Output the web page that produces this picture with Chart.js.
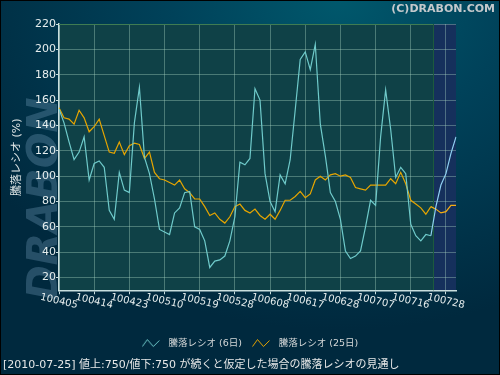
<!DOCTYPE html>
<html>
<head>
<meta charset="utf-8">
<script src="https://cdn.jsdelivr.net/npm/chart.js@4"></script>
<style>
  html, body { margin: 0; padding: 0; }
  #wrap {
    position: relative; width: 500px; height: 375px; overflow: hidden;
    background: radial-gradient(ellipse 420px 330px at 68% 0%, #00586c 0%, #00425a 40%, #00293e 100%);
  }
  #wrap::after {
    content: ''; position: absolute; inset: 0; border: 1px solid #000; pointer-events: none;
  }
  canvas { display: block; }
</style>
</head>
<body>
<div id="wrap"><canvas id="c" width="500" height="375"></canvas></div>
<script>
// ── データ（2010/04/05 〜 2010/07/30 の営業日） ─────────────────
const dates = [
  '100405','100406','100407','100408','100409','100412','100413','100414','100415','100416',
  '100419','100420','100421','100422','100423','100426','100427','100428','100430','100506',
  '100507','100510','100511','100512','100513','100514','100517','100518','100519','100520',
  '100521','100524','100525','100526','100527','100528','100531','100601','100602','100603',
  '100604','100607','100608','100609','100610','100611','100614','100615','100616','100617',
  '100618','100621','100622','100623','100624','100625','100628','100629','100630','100701',
  '100702','100705','100706','100707','100708','100709','100712','100713','100714','100715',
  '100716','100720','100721','100722','100723','100726','100727','100728','100729','100730',
];

// 騰落レシオ (6日)
const ratio6 = [
  153, 142, 127, 113, 119, 131,  97, 110, 112, 107,
   73,  66, 103,  89,  87, 142, 170, 115, 102,  82,
   58,  56,  54,  71,  75,  87,  88,  60,  58,  49,
   28,  33,  34,  37,  49,  68, 111, 109, 114, 169,
  160, 102,  80,  72, 101,  94, 113, 152, 192, 198,
  184, 204, 141, 116,  87,  80,  66,  41,  35,  37,
   41,  60,  81,  77, 131, 168, 137,  99, 107, 102,
   62,  53,  49,  54,  53,  76,  93, 102, 118, 131,
];

// 騰落レシオ (25日)
const ratio25 = [
  154, 146, 145, 141, 152, 146, 135, 139, 145, 132,
  119, 118, 127, 117, 124, 126, 125, 114, 119, 103,
   98,  97,  95,  93,  97,  90,  87,  82,  82,  76,
   69,  71,  66,  63,  68,  76,  78,  73,  71,  74,
   69,  66,  70,  66,  73,  81,  81,  84,  88,  83,
   86,  97, 100,  97, 101, 102, 100, 101,  99,  91,
   90,  89,  93,  93,  93,  93,  98,  94, 103,  94,
   81,  78,  75,  70,  76,  74,  71,  72,  77,  77,
];

const yTicks    = [20, 40, 60, 80, 100, 120, 140, 160, 180, 200, 220];
const PROJ_FROM = 75;          // 100726 以降は見通し
const LABEL_STEP = 7;

const FONT     = "'DejaVu Sans', 'Noto Sans CJK JP', sans-serif";
const GRID     = 'rgba(170,215,195,0.38)';
const AXIS     = '#c8dede';
const C6       = '#6fcaca';
const C6_PROJ  = '#8fd0f2';
const C25      = '#e6a500';
const C25_PROJ = '#f7ae12';

// 凡例用のギザギザアイコン
function zigzag(color) {
  const cv = document.createElement('canvas');
  cv.width = 22; cv.height = 10;
  const g = cv.getContext('2d');
  g.strokeStyle = color; g.lineWidth = 1;
  g.beginPath();
  g.moveTo(0.5, 8.5); g.lineTo(5.5, 1.5); g.lineTo(11.5, 8.5); g.lineTo(17.5, 2.5);
  g.stroke();
  return cv;
}

// ── 背景・透かし・x 軸ラベル ───────────────────────────────────
const decor = {
  id: 'decor',
  beforeDraw(chart) {
    const { ctx, chartArea: a, scales: { x } } = chart;
    ctx.save();
    ctx.translate(46, 300);
    ctx.rotate(-Math.PI / 2);
    ctx.font = "italic bold 42px 'DejaVu Sans'";
    ctx.fillStyle = 'rgba(125,170,200,0.3)';
    ctx.fillText('DRABON', 0, 0);
    ctx.restore();

    const split = x.getPixelForValue(PROJ_FROM - 0.5);
    ctx.fillStyle = '#0f4147';
    ctx.fillRect(a.left, a.top, split - a.left, a.bottom - a.top);
    ctx.fillStyle = '#15305c';
    ctx.fillRect(split, a.top, a.right - split, a.bottom - a.top);
  },
  beforeDatasetsDraw(chart) {
    const { ctx, chartArea: a, scales: { x } } = chart;
    const split = Math.round(x.getPixelForValue(PROJ_FROM - 0.5)) + 0.5;
    ctx.save();
    ctx.strokeStyle = '#3f7c52'; ctx.lineWidth = 1;
    ctx.beginPath(); ctx.moveTo(a.left, a.top + 0.5); ctx.lineTo(split, a.top + 0.5); ctx.stroke();
    ctx.strokeStyle = '#1d5a3e';
    ctx.beginPath(); ctx.moveTo(split, a.top); ctx.lineTo(split, a.bottom); ctx.stroke();
    ctx.restore();
  },
  afterDraw(chart) {
    const { ctx, chartArea: a, scales: { x } } = chart;
    ctx.save();
    ctx.font = '10px ' + FONT;
    ctx.fillStyle = '#e4ecec';
    ctx.textAlign = 'center';
    ctx.textBaseline = 'middle';
    x.ticks.forEach((t, i) => {
      ctx.save();
      ctx.translate(x.getPixelForTick(i), a.bottom + 11);
      ctx.rotate(13 * Math.PI / 180);
      ctx.fillText(dates[t.value], 0, 0);
      ctx.restore();
    });
    ctx.font = "bold 11px 'DejaVu Sans'";
    ctx.fillStyle = '#c4c9cc';
    ctx.textAlign = 'right';
    ctx.fillText('(C)DRABON.COM', 495, 9);
    ctx.restore();
  },
};

new Chart(document.getElementById('c'), {
  type: 'line',
  data: {
    labels: dates,
    datasets: [
      {
        label: '騰落レシオ (6日)',
        data: ratio6,
        borderColor: C6, borderWidth: 1.2,
        pointRadius: 0, tension: 0,
        pointStyle: zigzag(C6),
        segment: { borderColor: ctx => ctx.p0DataIndex >= PROJ_FROM - 1 ? C6_PROJ : undefined },
      },
      {
        label: '騰落レシオ (25日)',
        data: ratio25,
        borderColor: C25, borderWidth: 1.2,
        pointRadius: 0, tension: 0,
        pointStyle: zigzag(C25),
        segment: { borderColor: ctx => ctx.p0DataIndex >= PROJ_FROM - 1 ? C25_PROJ : undefined },
      },
    ],
  },
  options: {
    responsive: false, animation: false, devicePixelRatio: 1,
    layout: { padding: { left: 3, right: 3, top: 24, bottom: 3 } },
    plugins: {
      legend: {
        position: 'bottom',
        labels: {
          usePointStyle: true, pointStyleWidth: 22, padding: 10,
          color: '#d4d8d8', font: { family: FONT, size: 9.5 },
        },
      },
      title: {
        display: true, position: 'bottom', align: 'start',
        text: '[2010-07-25] 値上:750/値下:750 が続くと仮定した場合の騰落レシオの見通し',
        color: '#e6e8e8', font: { family: FONT, size: 11, weight: 'normal' },
        padding: { top: 1, bottom: 0 },
      },
      tooltip: { enabled: false },
    },
    scales: {
      x: {
        offset: false,
        afterBuildTicks: s => { s.ticks = s.ticks.filter(t => t.value % LABEL_STEP === 0); },
        afterFit: s => { s.height = 38; },
        ticks: { display: false, autoSkip: false },
        grid: { color: GRID, tickColor: AXIS, tickLength: 4 },
        border: { color: AXIS, width: 1.5 },
      },
      y: {
        min: 10, max: 220,
        afterBuildTicks: s => { s.ticks = yTicks.map(v => ({ value: v })); },
        afterFit: s => { s.width = 56; },
        ticks: { color: '#e6eeee', font: { family: FONT, size: 11 }, padding: 0 },
        grid: { color: GRID, tickColor: AXIS, tickLength: 3 },
        border: { color: AXIS, width: 1.5 },
        title: {
          display: true, text: '騰落レシオ (%)',
          color: '#dfe6e6', font: { family: FONT, size: 11 },
          padding: { top: 8, bottom: 0 },
        },
      },
      yR: {
        position: 'right', display: true,
        afterFit: s => { s.width = 41; },
        ticks: { display: false },
        grid: { display: false },
        border: { display: false },
      },
    },
  },
  plugins: [decor],
});
</script>
</body>
</html>
